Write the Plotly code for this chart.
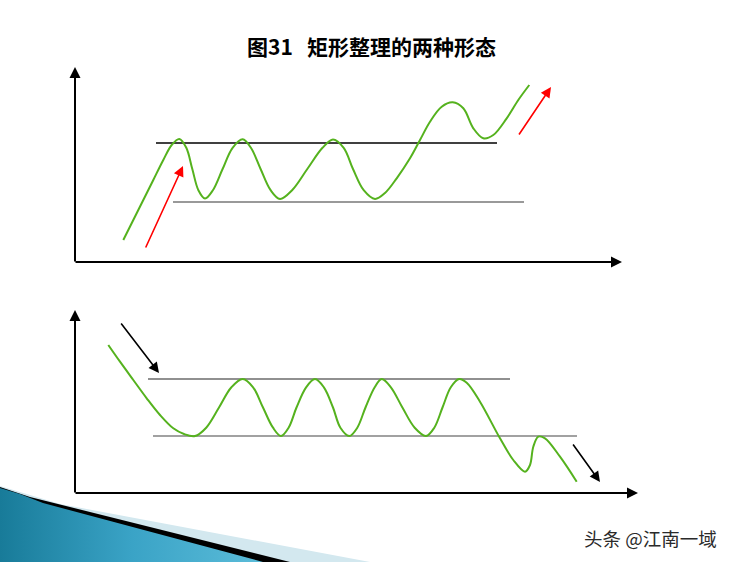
import plotly.graph_objects as go

W, H = 732, 562

# ---- data (diagram points) ----
top_curve_x = [123.3, 133.3, 143.3, 153.3, 163.3, 171.7, 179.3, 186.3, 192.3, 198.4, 205,
               212.9, 222.6, 232.6, 242.7, 250.9, 260.6, 270.6, 280, 292.1, 307.3, 322.5,
               333, 343.7, 353, 363.7, 375, 385, 396.7, 410, 420, 430, 441.7, 452.7,
               463.3, 473.3, 483.3, 493.3, 506.7, 518.3, 529.3]
top_curve_y = [240, 220, 200, 180, 160, 145, 139, 147.8, 169, 190.2, 198.5,
               190.2, 169, 147.8, 139.3, 147.8, 169, 190.2, 199, 190.2, 169, 147.8,
               139.5, 147.8, 169, 190.2, 199, 193, 178.3, 158.3, 140, 121.7, 106.7, 102.3,
               108.3, 128.3, 138.3, 135, 118.3, 100, 85]
top_resist_x = [156, 497]
top_resist_y = [143, 143]
top_support_x = [173, 524]
top_support_y = [202, 202]

bot_curve_x = [108.3, 120, 133.3, 146.7, 160, 173.3, 184, 195, 206.2, 219, 231.4, 242.7,
               253.1, 263, 273, 281, 288.6, 296.5, 306.1, 315, 323.9, 333, 340.4, 349.3,
               357.3, 365.5, 374.7, 381.7, 390.9, 402.4, 414.7, 426, 434.3, 442.5, 450.8, 459,
               466.7, 480, 500, 513.3, 525, 530, 533.3, 538.3, 545, 560, 576.7]
bot_curve_y = [345, 361.7, 380, 398.3, 415, 428.3, 434, 436, 427.7, 407.5, 387.3, 379,
               387.3, 407.5, 427.7, 436, 427.7, 407.5, 387.3, 379, 387.3, 407.5, 427.7, 436,
               427.7, 407.5, 387.3, 379, 387.3, 407.5, 427.7, 436, 427.7, 407.5, 387.3, 379,
               382.7, 401.7, 438.3, 460, 471.7, 465, 446.7, 436.7, 438.3, 456.7, 481.7]
bot_upper_x = [148, 510]
bot_upper_y = [379, 379]
bot_lower_x = [153, 577]
bot_lower_y = [436, 436]

# arrows: (tail_x, tail_y, head_x, head_y)
axis_arrows = [
    (75, 263, 75, 67),
    (74, 262, 622, 262),
    (75, 494, 75, 310),
    (74, 493, 638, 493),
]
red_arrows = [
    (145, 249, 183, 166),
    (518, 136, 551, 87),
]
black_arrows = [
    (120, 322, 159, 373),
    (572, 443, 600, 482),
]

title_text = "图31\u00a0\u00a0\u00a0矩形整理的两种形态"
watermark_text = "头条 @江南一域"

# swoosh decoration polygons
light_x = [0, 60, 370, 0]
light_y = [486, 504, 562, 562]
black_x = [0, 30, 290, 0]
black_y = [487, 497, 562, 562]
blue_x = [0, 20, 43, 263, 0]
blue_y = [488, 494, 503, 562, 562]

GREEN = "#55b21e"

fig = go.Figure()

# decoration
fig.add_trace(go.Scatter(x=light_x, y=light_y, fill="toself", mode="lines",
                         line=dict(width=0), fillcolor="#d3e8ef", hoverinfo="skip"))
fig.add_trace(go.Scatter(x=black_x, y=black_y, fill="toself", mode="lines",
                         line=dict(width=0), fillcolor="#000000", hoverinfo="skip"))
fig.add_trace(go.Scatter(x=blue_x, y=blue_y, fill="toself", mode="lines",
                         line=dict(width=0),
                         fillgradient=dict(type="horizontal",
                                           colorscale=[[0, "#187b99"], [0.5, "#3aa3c6"], [1, "#5bbcd9"]]),
                         hoverinfo="skip"))

# horizontal levels
fig.add_trace(go.Scatter(x=top_resist_x, y=top_resist_y, mode="lines",
                         line=dict(color="#000000", width=1.6)))
fig.add_trace(go.Scatter(x=top_support_x, y=top_support_y, mode="lines",
                         line=dict(color="#777777", width=1.4)))
fig.add_trace(go.Scatter(x=bot_upper_x, y=bot_upper_y, mode="lines",
                         line=dict(color="#222222", width=1.1)))
fig.add_trace(go.Scatter(x=bot_lower_x, y=bot_lower_y, mode="lines",
                         line=dict(color="#444444", width=1.1)))

# price curves
fig.add_trace(go.Scatter(x=top_curve_x, y=top_curve_y, mode="lines",
                         line=dict(color=GREEN, width=2, shape="spline", smoothing=1.0)))
fig.add_trace(go.Scatter(x=bot_curve_x, y=bot_curve_y, mode="lines",
                         line=dict(color=GREEN, width=2, shape="spline", smoothing=1.0)))

annotations = []
def arrow(a, color, width, size):
    tx, ty, hx, hy = a
    return dict(x=hx, y=hy, ax=tx, ay=ty, xref="x", yref="y", axref="x", ayref="y",
                text="", showarrow=True, arrowhead=2, arrowsize=size, arrowwidth=width,
                arrowcolor=color, standoff=0, startstandoff=0)

for a in axis_arrows:
    annotations.append(arrow(a, "#000000", 2, 1.1))
for a in red_arrows:
    annotations.append(arrow(a, "#ff0000", 1.6, 1.3))
for a in black_arrows:
    annotations.append(arrow(a, "#000000", 1.6, 1.3))

annotations.append(dict(x=371, y=46, xref="x", yref="y", text="<b>" + title_text + "</b>",
                        showarrow=False, font=dict(family="Noto Sans CJK SC", size=21, color="#000000")))
annotations.append(dict(x=650, y=538, xref="x", yref="y", text=watermark_text,
                        showarrow=False, font=dict(family="Noto Sans CJK SC", size=18.5, color="#2a2a2a")))

fig.update_layout(
    width=W, height=H,
    margin=dict(l=0, r=0, t=0, b=0),
    paper_bgcolor="white", plot_bgcolor="white",
    showlegend=False,
    xaxis=dict(range=[0, W], visible=False, fixedrange=True),
    yaxis=dict(range=[H, 0], visible=False, fixedrange=True),
    annotations=annotations,
)

fig.write_html("out.html", config={"displayModeBar": False},
               post_script="document.body.style.margin='0';document.body.style.overflow='hidden';")
